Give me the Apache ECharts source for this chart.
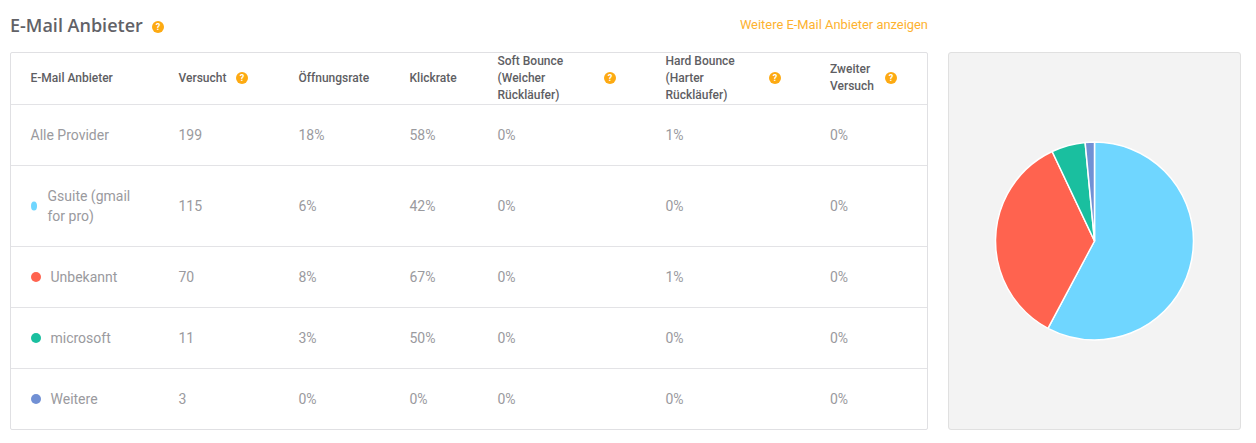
<!DOCTYPE html>
<html>
<head>
<meta charset="utf-8">
<title>E-Mail Anbieter</title>
<script src="https://cdn.jsdelivr.net/npm/echarts@6/dist/echarts.min.js"></script>
<style>
html, body { margin: 0; padding: 0; background: #fff; width: 1256px; height: 443px; overflow: hidden; font-family: Roboto, sans-serif; }
#title { position: absolute; left: 10px; top: 12px; font: 600 18px/26px "Open Sans", sans-serif; color: #626267; }
#more { position: absolute; right: 328px; top: 16px; font-size: 12.9px; line-height: 18px; color: #fdb22f; }
#box { position: absolute; left: 10px; top: 52px; width: 916px; height: 376px; border: 1px solid #e0e0e3; border-radius: 2px; }
.line { position: absolute; left: 0; right: 0; height: 1px; background: #e3e3e6; }
.cell { position: absolute; transform: translateY(-50%); white-space: nowrap; }
.head { font-size: 12px; font-weight: 500; line-height: 17px; color: #5e5e63; }
.body { font-size: 14px; line-height: 20px; color: #9a9a9e; }
.dot { position: absolute; width: 10px; height: 10px; border-radius: 50%; transform: translateY(-50%); }
.help { position: absolute; width: 12px; height: 12px; border-radius: 50%; background: #fdaa12; color: #fff; font-size: 9px; font-weight: 700; line-height: 12px; text-align: center; transform: translateY(-50%); }
#panel { position: absolute; left: 948px; top: 52px; width: 291px; height: 376px; background: #f3f3f3; border: 1px solid #e0e0e0; border-radius: 3px; }
#container { width: 291px; height: 376px; }
</style>
</head>
<body>
<div id="title">E-Mail Anbieter</div>
<div id="more">Weitere E-Mail Anbieter anzeigen</div>
<div id="box"></div>
<div id="panel"><div id="container"></div></div>
<script>
var columnTitles = [
    'E-Mail Anbieter', 'Versucht', 'Öffnungsrate', 'Klickrate',
    'Soft Bounce<br>(Weicher<br>Rückläufer)', 'Hard Bounce<br>(Harter<br>Rückläufer)', 'Zweiter<br>Versuch'
];
var providers = ['Alle Provider', 'Gsuite (gmail<br>for pro)', 'Unbekannt', 'microsoft', 'Weitere'];
var attempts = [199, 115, 70, 11, 3];
var openRate = ['18%', '6%', '8%', '3%', '0%'];
var clickRate = ['58%', '42%', '67%', '50%', '0%'];
var softBounce = ['0%', '0%', '0%', '0%', '0%'];
var hardBounce = ['1%', '0%', '1%', '0%', '0%'];
var secondTry = ['0%', '0%', '0%', '0%', '0%'];
var pieNames = ['Gsuite (gmail for pro)', 'Unbekannt', 'microsoft', 'Weitere'];
var pieValues = [115, 70, 11, 3];
var pieColors = ['#6fd6ff', '#ff634f', '#1abf9f', '#7190d4'];

// table layout
var colX = [19.5, 167.5, 287.5, 398.5, 486.5, 654.5, 819];
var helpX = [null, 225, null, null, 593, 758, 874];
var lineY = [51, 112, 193, 254, 315];
var rowMid = [82, 153, 224, 285, 346];
var box = document.getElementById('box');

function add(cls, x, y, html) {
    var el = document.createElement('div');
    el.className = cls;
    el.style.left = x + 'px';
    el.style.top = y + 'px';
    if (html !== undefined) el.innerHTML = html;
    box.appendChild(el);
    return el;
}

lineY.forEach(function (y) { add('line', 0, y); });

columnTitles.forEach(function (t, i) {
    add('cell head', colX[i], 25, t);
    if (helpX[i] !== null) add('help', helpX[i], 25, '?');
});

providers.forEach(function (name, r) {
    var cols = [attempts[r], openRate[r], clickRate[r], softBounce[r], hardBounce[r], secondTry[r]];
    if (r === 0) {
        add('cell body', colX[0], rowMid[r], name);
    } else {
        var dot = add('dot', 20, rowMid[r]);
        dot.style.background = pieColors[r - 1];
        if (r === 1) { dot.style.width = '6px'; dot.style.height = '9px'; }
        add('cell body', r === 1 ? 36.5 : 39.5, rowMid[r], name);
    }
    cols.forEach(function (v, c) { add('cell body', colX[c + 1], rowMid[r], v); });
});

var titleHelp = document.createElement('div');
titleHelp.className = 'help';
titleHelp.style.left = '152px';
titleHelp.style.top = '27px';
titleHelp.innerHTML = '?';
document.body.appendChild(titleHelp);

var dom = document.getElementById('container');
var myChart = echarts.init(dom);
var option = {
    animation: false,
    color: pieColors,
    series: [
        {
            type: 'pie',
            center: [145.5, 188],
            radius: [0, 99],
            startAngle: 90,
            label: { show: false },
            labelLine: { show: false },
            itemStyle: { borderColor: '#fff', borderWidth: 1.5 },
            data: pieNames.map(function (n, i) { return { name: n, value: pieValues[i] }; })
        }
    ]
};
myChart.setOption(option, true);
</script>
</body>
</html>
